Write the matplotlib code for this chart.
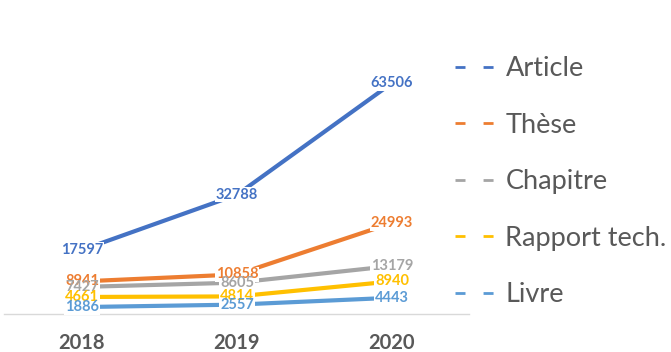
import matplotlib.pyplot as plt
from matplotlib.lines import Line2D

years = ["2018", "2019", "2020"]
series_names = ["Article", "Thèse", "Chapitre", "Rapport tech.", "Livre"]
article = [17597, 32788, 63506]
these = [8941, 10858, 24993]
chapitre = [7427, 8605, 13179]
rapport = [4661, 4814, 8940]
livre = [1886, 2557, 4443]
colors = ["#4472C4", "#ED7D31", "#A5A5A5", "#FFC000", "#5B9BD5"]

plt.rcParams["font.family"] = ["Lato", "DejaVu Sans"]

fig = plt.figure(figsize=(6.71, 3.52), dpi=100)
ax = fig.add_axes([0.0067, 0.1082, 0.693, 0.7229])

all_series = [article, these, chapitre, rapport, livre]
x = range(len(years))
for vals, col in zip(all_series, colors):
    ax.plot(x, vals, color=col, lw=3, solid_capstyle="butt", zorder=2)

# white boxes under labels first, so the lines get cut but overlapping text stays visible
for vals, col in zip(all_series, colors):
    for i, v in zip(x, vals):
        ax.text(i, v, str(v), ha="center", va="center", fontsize=10.5,
                fontweight="bold", color=(1, 1, 1, 0), zorder=3,
                bbox=dict(facecolor="white", edgecolor="none", pad=0.5))
for vals, col in zip(all_series, colors):
    for i, v in zip(x, vals):
        ax.text(i, v, str(v), ha="center", va="center", fontsize=10.5,
                fontweight="bold", color=col, zorder=4)

ax.set_xlim(-0.5, 2.5)
ax.set_ylim(0, 70000)
ax.set_xticks(list(x))
ax.set_xticklabels(years, fontsize=14.5, fontweight="bold", color="#595959")
ax.tick_params(axis="x", length=0, pad=14)
ax.set_yticks([])
for s in ["top", "right", "left"]:
    ax.spines[s].set_visible(False)
ax.spines["bottom"].set_color("#D9D9D9")
ax.spines["bottom"].set_linewidth(1)

handles = [Line2D([0], [0], color=c, lw=2, linestyle=(0, (3.6, 6.5))) for c in colors]
fig.legend(handles, series_names, loc="upper left", bbox_to_anchor=(431 / 671, 1 - 32 / 352),
           frameon=False, fontsize=19.5, handlelength=1.48, handletextpad=0.37,
           labelspacing=1.16, labelcolor="#595959")

fig.savefig("out.png", dpi=100)
